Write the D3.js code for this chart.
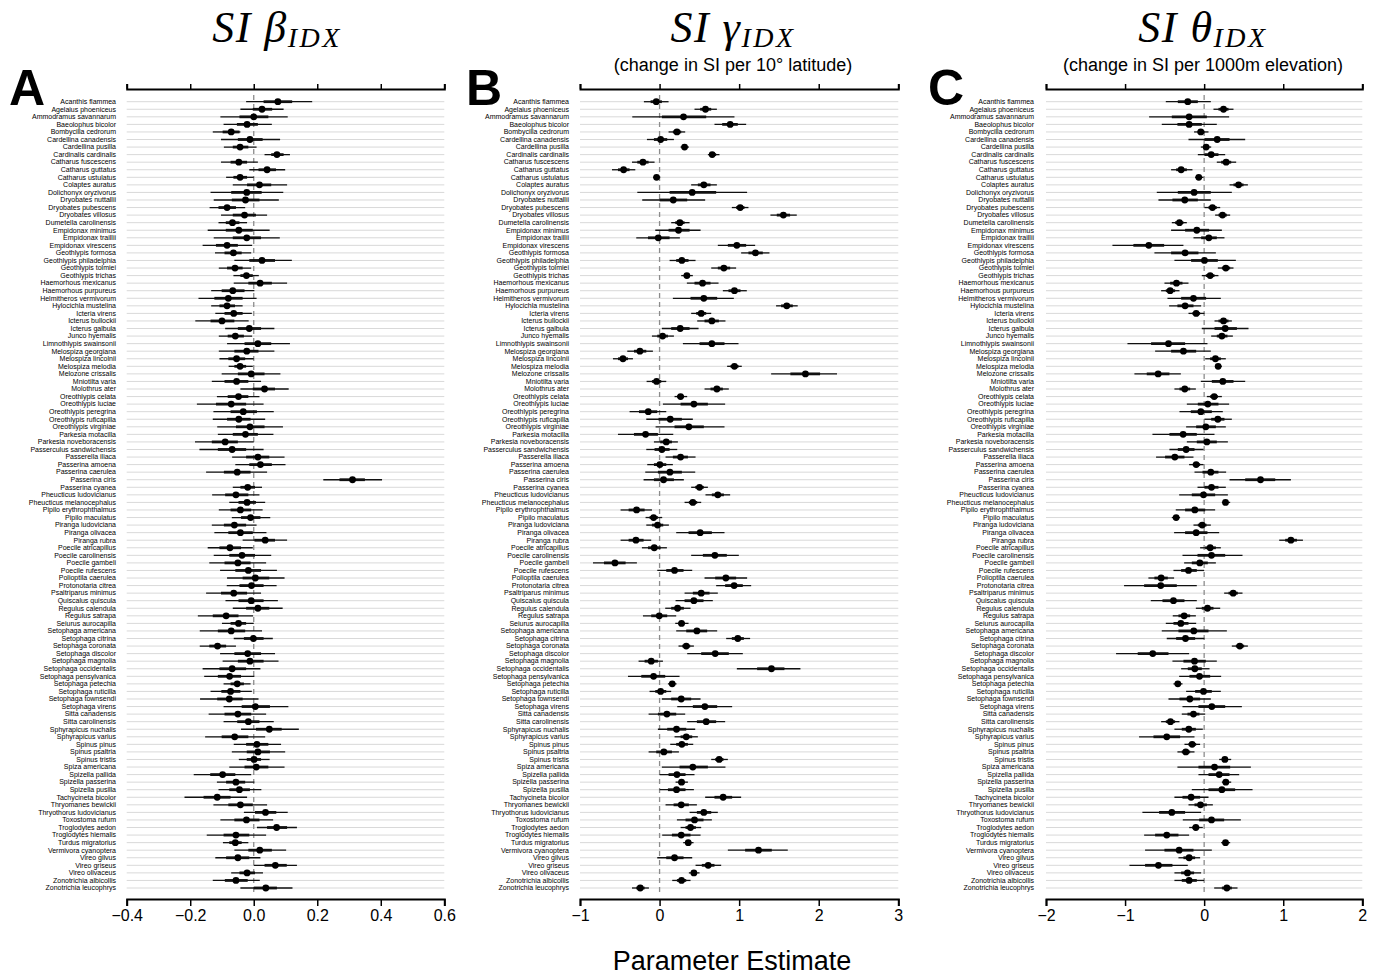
<!DOCTYPE html>
<html>
<head>
<meta charset="utf-8">
<script src="https://cdn.jsdelivr.net/npm/d3@7"></script>
<style>
  html, body { margin: 0; padding: 0; background: #fff; }
  svg { display: block; }
  .sp { font-family: "Liberation Sans", Arial, sans-serif; font-size: 7px; fill: #000; }
  .tick text { font-family: "Liberation Sans", Arial, sans-serif; font-size: 16px; fill: #000; }
</style>
</head>
<body>
<svg id="chart" width="1380" height="975"></svg>
<script>
// Species (rows, top to bottom)
const species = [
  "Acanthis flammea","Agelaius phoeniceus","Ammodramus savannarum","Baeolophus bicolor","Bombycilla cedrorum",
  "Cardellina canadensis","Cardellina pusilla","Cardinalis cardinalis","Catharus fuscescens","Catharus guttatus",
  "Catharus ustulatus","Colaptes auratus","Dolichonyx oryzivorus","Dryobates nuttallii","Dryobates pubescens",
  "Dryobates villosus","Dumetella carolinensis","Empidonax minimus","Empidonax traillii","Empidonax virescens",
  "Geothlypis formosa","Geothlypis philadelphia","Geothlypis tolmiei","Geothlypis trichas","Haemorhous mexicanus",
  "Haemorhous purpureus","Helmitheros vermivorum","Hylocichla mustelina","Icteria virens","Icterus bullockii",
  "Icterus galbula","Junco hyemalis","Limnothlypis swainsonii","Melospiza georgiana","Melospiza lincolnii",
  "Melospiza melodia","Melozone crissalis","Mniotilta varia","Molothrus ater","Oreothlypis celata",
  "Oreothlypis luciae","Oreothlypis peregrina","Oreothlypis ruficapilla","Oreothlypis virginiae","Parkesia motacilla",
  "Parkesia noveboracensis","Passerculus sandwichensis","Passerella iliaca","Passerina amoena","Passerina caerulea",
  "Passerina ciris","Passerina cyanea","Pheucticus ludovicianus","Pheucticus melanocephalus","Pipilo erythrophthalmus",
  "Pipilo maculatus","Piranga ludoviciana","Piranga olivacea","Piranga rubra","Poecile atricapillus",
  "Poecile carolinensis","Poecile gambeli","Poecile rufescens","Polioptila caerulea","Protonotaria citrea",
  "Psaltriparus minimus","Quiscalus quiscula","Regulus calendula","Regulus satrapa","Seiurus aurocapilla",
  "Setophaga americana","Setophaga citrina","Setophaga coronata","Setophaga discolor","Setophaga magnolia",
  "Setophaga occidentalis","Setophaga pensylvanica","Setophaga petechia","Setophaga ruticilla","Setophaga townsendi",
  "Setophaga virens","Sitta canadensis","Sitta carolinensis","Sphyrapicus nuchalis","Sphyrapicus varius",
  "Spinus pinus","Spinus psaltria","Spinus tristis","Spiza americana","Spizella pallida",
  "Spizella passerina","Spizella pusilla","Tachycineta bicolor","Thryomanes bewickii","Thryothorus ludovicianus",
  "Toxostoma rufum","Troglodytes aedon","Troglodytes hiemalis","Turdus migratorius","Vermivora cyanoptera",
  "Vireo gilvus","Vireo griseus","Vireo olivaceus","Zonotrichia albicollis","Zonotrichia leucophrys"
];

// ---- SI beta_IDX ----
const betaEst = [.076,.026,.000,-.021,-.071,-.012,-.043,.073,-.047,.042,-.043,.018,-.022,-.026,-.084,-.029,-.067,-.047,-.022,-.084,-.064,.026,-.059,-.023,.020,-.066,
  -.080,-.084,-.063,-.100,-.014,-.058,.013,-.022,-.054,-.043,-.008,-.054,.034,-.048,-.071,-.033,-.047,-.012,-.026,-.090,-.068,.013,.021,-.052,.311,-.019,-.056,
  -.021,-.042,-.010,-.061,-.042,.036,-.075,-.037,-.050,-.017,.005,-.007,-.063,-.008,.013,-.087,-.048,-.071,-.001,-.114,-.019,-.012,-.068,-.076,-.052,-.073,
  -.077,.005,-.050,-.017,.049,-.060,.010,.013,.001,.008,-.098,-.056,-.045,-.115,-.042,.037,-.023,.072,-.056,-.058,.019,-.050,.068,-.021,-.056,.038];
const betaLo95 = [-.024,-.042,-.105,-.095,-.129,-.103,-.094,.034,-.103,-.014,-.087,-.066,-.136,-.126,-.139,-.103,-.111,-.145,-.126,-.161,-.122,-.061,-.110,-.064,-.063,-.134,
  -.174,-.134,-.121,-.184,-.090,-.110,-.084,-.110,-.108,-.079,-.101,-.132,-.042,-.116,-.179,-.127,-.129,-.115,-.113,-.185,-.171,-.068,-.058,-.150,.219,-.066,-.131,
  -.077,-.110,-.069,-.132,-.124,-.035,-.145,-.126,-.140,-.106,-.084,-.085,-.150,-.089,-.066,-.176,-.100,-.170,-.063,-.170,-.106,-.098,-.161,-.156,-.095,-.136,
  -.169,-.095,-.142,-.095,-.040,-.153,-.063,-.069,-.047,-.077,-.189,-.116,-.111,-.218,-.127,-.031,-.105,.010,-.148,-.097,-.061,-.121,.000,-.071,-.129,-.042];
const betaHi95 = [.184,.094,.107,.057,-.042,.083,.009,.114,.013,.099,.000,.105,.093,.079,-.027,.042,-.021,.050,.082,-.005,-.008,.120,-.008,.016,.105,.002,
  .009,-.035,-.006,-.016,.065,-.005,.114,.065,.000,-.003,.084,.023,.110,.018,.031,.063,.036,.092,.062,.000,.031,.097,.100,.042,.404,.026,.018,
  .036,.028,.052,.009,.040,.105,-.003,.055,.039,.073,.097,.072,.023,.076,.091,-.002,.000,.026,.060,-.056,.067,.078,.021,.002,-.010,-.006,
  .015,.109,.039,.063,.142,.036,.086,.099,.050,.097,-.008,.002,.024,-.021,.042,.107,.061,.136,.039,-.017,.102,.021,.136,.029,.019,.122];
const betaLo66 = [.031,-.003,-.045,-.053,-.098,-.050,-.066,.055,-.073,.015,-.064,-.021,-.071,-.069,-.111,-.066,-.088,-.088,-.066,-.119,-.092,-.014,-.084,-.042,-.017,-.101,
  -.124,-.108,-.092,-.136,-.050,-.082,-.029,-.061,-.080,-.061,-.050,-.092,-.003,-.082,-.119,-.073,-.084,-.056,-.066,-.132,-.113,-.024,-.014,-.094,.270,-.042,-.090,
  -.048,-.073,-.040,-.094,-.080,.002,-.108,-.077,-.092,-.058,-.035,-.045,-.103,-.048,-.024,-.129,-.073,-.113,-.031,-.140,-.061,-.050,-.108,-.113,-.073,-.102,
  -.115,-.038,-.092,-.052,.007,-.101,-.024,-.022,-.022,-.029,-.137,-.087,-.077,-.158,-.080,.004,-.061,.042,-.095,-.077,-.017,-.087,.034,-.045,-.091,.000];
const betaHi66 = [.121,.058,.046,.013,-.045,.028,-.017,.094,-.021,.070,-.021,.055,.025,.018,-.056,.007,-.045,-.003,.023,-.050,-.038,.067,-.035,-.003,.057,-.029,
  -.035,-.059,-.035,-.061,.023,-.031,.055,.015,-.027,-.024,.034,-.017,.067,-.017,-.024,.010,-.010,.034,.013,-.050,-.024,.049,.057,-.010,.350,.004,-.017,
  .007,-.008,.021,-.024,-.003,.067,-.040,.004,-.010,.023,.049,.031,-.021,.031,.049,-.048,-.024,-.027,.031,-.087,.023,.031,-.024,-.040,-.031,-.042,
  -.035,.051,-.008,.018,.088,-.017,.046,.051,.023,.046,-.058,-.027,-.012,-.073,-.003,.071,.018,.105,-.014,-.038,.057,-.014,.104,.004,-.019,.073];

// ---- SI gamma_IDX (change in SI per 10 degrees latitude) ----
const gammaEst = [-.042,.577,.301,.887,.218,.013,.314,.661,-.209,-.452,-.038,.556,.410,.172,1.013,1.556,.255,.238,-.017,.971,1.205,.280,.808,.343,.540,.941,
  .556,1.598,.523,.657,.259,.038,.657,-.247,-.460,.941,1.833,-.038,.720,.264,.431,-.142,.134,.368,-.176,.084,.029,.264,.004,.130,.050,.502,.732,
  .418,-.289,-.075,-.025,.510,-.297,-.067,.695,-.561,.188,.833,.937,.523,.431,.226,-.004,.276,.469,.983,.335,.699,-.105,1.406,-.075,.159,.013,
  .272,.569,.092,.586,.213,.335,.280,.054,.749,.418,.218,.276,.213,.799,.272,.556,.439,.389,.272,.360,1.243,.188,.611,.431,.276,-.243];
const gammaLo95 = [-.197,.439,-.343,.690,.113,-.159,.264,.607,-.347,-.598,-.079,.397,-.280,-.218,.908,1.393,.146,-.054,-.293,.732,1.025,.126,.649,.272,.343,.795,
  .167,1.464,.397,.473,.029,-.096,.293,-.406,-.586,.849,1.402,-.163,.565,.188,.042,-.377,-.167,-.050,-.523,-.071,-.167,.075,-.155,-.180,-.201,.397,.577,
  .314,-.490,-.176,-.167,.209,-.490,-.222,.397,-.837,-.029,.565,.711,.314,.201,.071,-.209,.197,.209,.837,.238,.347,-.264,.971,-.397,.105,-.126,
  .029,.222,-.138,.347,-.021,.188,.134,-.138,.649,.029,.000,.201,.000,.573,.075,.377,.218,.264,.033,.297,.858,-.029,.452,.368,.159,-.347];
const gammaHi95 = [.113,.720,.941,1.088,.322,.180,.368,.753,-.063,-.305,.008,.720,1.100,.573,1.117,1.724,.377,.515,.255,1.201,1.381,.452,.962,.418,.741,1.096,
  .933,1.736,.649,.828,.490,.180,.992,-.084,-.335,1.033,2.230,.084,.870,.347,.824,.084,.418,.816,.172,.230,.222,.452,.167,.448,.305,.607,.887,
  .523,-.096,.033,.117,.816,-.105,.092,.996,-.285,.410,1.100,1.151,.732,.669,.389,.209,.364,.724,1.138,.431,1.046,.042,1.770,.251,.213,.146,
  .515,.912,.322,.824,.448,.481,.423,.243,.858,.828,.439,.356,.431,1.025,.469,.732,.657,.523,.515,.427,1.611,.410,.774,.502,.389,-.134];
const gammaLo66 = [-.113,.510,.029,.787,.167,-.071,.285,.628,-.280,-.523,-.063,.481,.126,.000,.962,1.473,.197,.113,-.146,.858,1.117,.209,.732,.305,.439,.866,
  .389,1.527,.460,.565,.146,-.029,.502,-.322,-.523,.891,1.644,-.096,.640,.222,.264,-.259,-.013,.188,-.322,.008,-.063,.167,-.071,-.021,-.071,.448,.657,
  .368,-.389,-.126,-.096,.364,-.389,-.146,.544,-.699,.084,.699,.824,.418,.314,.146,-.105,.238,.335,.908,.285,.523,-.188,1.226,-.230,.130,-.054,
  .146,.418,-.021,.469,.096,.264,.209,-.042,.699,.251,.113,.238,.105,.690,.176,.469,.326,.326,.155,.326,1.075,.084,.531,.397,.218,-.293];
const gammaHi66 = [.029,.649,.586,.983,.272,.096,.343,.711,-.138,-.377,-.013,.640,.711,.347,1.067,1.640,.314,.377,.126,1.088,1.297,.364,.887,.381,.640,1.017,
  .724,1.674,.586,.745,.377,.105,.816,-.167,-.397,.992,2.017,.021,.795,.305,.607,-.029,.280,.556,-.021,.155,.126,.356,.084,.280,.180,.556,.808,
  .473,-.188,-.021,.046,.657,-.201,.013,.845,-.427,.301,.962,1.046,.628,.552,.305,.096,.314,.598,1.059,.385,.870,-.021,1.569,.071,.188,.084,
  .397,.724,.209,.711,.335,.410,.356,.155,.803,.607,.326,.314,.326,.912,.368,.649,.552,.456,.389,.397,1.410,.301,.690,.469,.335,-.188];

// ---- SI theta_IDX (change in SI per 1000 m elevation) ----
const thetaEst = [-.207,.245,-.190,-.190,-.042,.165,.025,.089,.278,-.291,-.068,.435,-.127,-.245,.105,.232,-.312,-.093,.059,-.700,-.241,.004,.274,.076,-.350,-.430,
  -.135,-.241,-.101,.245,.266,.224,-.451,-.262,.143,.177,-.582,.236,-.245,.127,.046,-.042,.173,.021,-.266,.034,-.228,-.371,-.101,.084,.713,.093,-.008,
  .270,-.118,-.354,-.025,-.101,1.097,.076,.093,-.055,-.198,-.544,-.549,.367,-.388,.042,-.253,-.295,-.131,-.236,.451,-.650,-.122,-.118,-.059,-.333,-.008,
  -.181,.097,-.135,-.426,-.194,-.473,-.152,-.232,.262,.131,.190,.274,.224,-.165,-.046,-.409,.093,-.105,-.473,.270,-.316,-.190,-.578,-.211,-.190,.287];
const thetaLo95 = [-.485,.118,-.696,-.536,-.127,-.198,-.042,-.080,.160,-.418,-.114,.321,-.599,-.578,.004,.139,-.409,-.418,-.135,-1.160,-.629,-.376,.173,-.030,-.502,-.544,
  -.464,-.443,-.198,.131,-.030,.089,-.970,-.620,.013,.139,-.882,-.042,-.376,.034,-.219,-.312,.004,-.228,-.654,-.219,-.439,-.608,-.190,-.122,.321,-.084,-.316,
  .224,-.359,-.409,-.135,-.380,.949,-.051,-.274,-.253,-.388,-.705,-1.013,.253,-.675,-.105,-.397,-.485,-.536,-.473,.350,-1.114,-.401,-.291,-.316,-.388,-.228,
  -.451,-.274,-.283,-.544,-.376,-.823,-.249,-.338,.190,-.338,-.072,.224,-.156,-.376,-.198,-.781,-.270,-.190,-.759,.215,-.747,-.325,-.945,-.376,-.376,.127];
const thetaHi95 = [.084,.371,.316,.160,.055,.519,.089,.266,.405,-.148,-.008,.553,.350,.084,.203,.329,-.219,.224,.257,-.262,.148,.401,.371,.181,-.198,-.312,
  .211,-.038,.004,.350,.561,.363,.042,.084,.274,.224,-.295,.519,-.105,.224,.316,.236,.350,.274,.131,.300,-.008,-.135,-.008,.278,1.097,.274,.300,
  .329,.139,-.304,.084,.190,1.249,.211,.485,.148,.000,-.380,-.093,.485,-.093,.203,-.105,-.101,.287,.004,.553,-.190,.160,.068,.215,-.274,.211,
  .084,.477,.013,-.312,-.017,-.122,-.051,-.122,.342,.591,.443,.342,.612,.055,.110,-.038,.464,-.017,-.190,.329,.097,-.051,-.207,-.038,.000,.422];
const thetaLo66 = [-.333,.181,-.409,-.338,-.084,.004,-.008,.004,.215,-.354,-.093,.371,-.333,-.401,.055,.181,-.367,-.241,-.038,-.895,-.418,-.165,.224,.021,-.430,-.485,
  -.291,-.338,-.148,.181,.131,.160,-.671,-.418,.076,.152,-.726,.097,-.312,.076,-.080,-.169,.089,-.101,-.439,-.093,-.333,-.494,-.143,-.021,.519,.004,-.156,
  .245,-.241,-.384,-.080,-.241,1.025,.013,-.084,-.156,-.291,-.629,-.759,.308,-.527,-.030,-.325,-.388,-.325,-.354,.401,-.840,-.262,-.207,-.186,-.363,-.114,
  -.312,-.072,-.211,-.485,-.283,-.641,-.198,-.283,.224,-.072,.055,.245,.055,-.274,-.122,-.570,-.063,-.148,-.620,.236,-.502,-.262,-.747,-.291,-.283,.224];
const thetaHi66 = [-.080,.308,.034,-.030,.004,.321,.063,.181,.342,-.219,-.038,.498,.084,-.080,.160,.287,-.262,.063,.160,-.506,-.072,.173,.329,.131,-.274,-.367,
  .025,-.135,-.051,.308,.414,.295,-.241,-.101,.211,.203,-.439,.371,-.177,.173,.181,.097,.257,.148,-.093,.160,-.122,-.249,-.051,.181,.899,.181,.139,
  .300,.013,-.325,.030,.042,1.173,.148,.266,.046,-.093,-.460,-.346,.426,-.249,.118,-.177,-.198,.055,-.114,.506,-.451,.021,-.030,.076,-.304,.097,
  -.051,.266,-.059,-.367,-.105,-.304,-.101,-.177,.300,.329,.321,.308,.392,-.051,.034,-.241,.253,-.063,-.325,.304,-.135,-.114,-.401,-.127,-.093,.350];

// Axis tick values
const betaTicks = [-0.4, -0.2, 0.0, 0.2, 0.4, 0.6];
const gammaTicks = [-1, 0, 1, 2, 3];
const thetaTicks = [-2, -1, 0, 1, 2];

const svg = d3.select("#chart");

const y = d3.scalePoint().domain(species).range([101.7, 888]);
const axisTop = 89, axisBottom = 899;

const panels = [
  { letter: "A", greek: "\u03B2", sub: null, domain: [-0.4, 0.6], range: [126.7, 444.3], ticks: betaTicks, fmt: d3.format(".1f"),
    est: betaEst, lo95: betaLo95, hi95: betaHi95, lo66: betaLo66, hi66: betaHi66, labelX: 116, letterX: 27, titleX: 277 },
  { letter: "B", greek: "\u03B3", sub: "(change in SI per 10\u00B0 latitude)", domain: [-1, 3], range: [580, 898.3], ticks: gammaTicks, fmt: d3.format("d"),
    est: gammaEst, lo95: gammaLo95, hi95: gammaHi95, lo66: gammaLo66, hi66: gammaHi66, labelX: 569, letterX: 484, titleX: 733 },
  { letter: "C", greek: "\u03B8", sub: "(change in SI per 1000m elevation)", domain: [-2, 2], range: [1046, 1362.3], ticks: thetaTicks, fmt: d3.format("d"),
    est: thetaEst, lo95: thetaLo95, hi95: thetaHi95, lo66: thetaLo66, hi66: thetaHi66, labelX: 1034, letterX: 946, titleX: 1203 }
];

panels.forEach(p => {
  const x = d3.scaleLinear().domain(p.domain).range(p.range);
  const g = svg.append("g");
  const rows = species.map((s, i) => ({ s, est: p.est[i], lo95: p.lo95[i], hi95: p.hi95[i], lo66: p.lo66[i], hi66: p.hi66[i] }));

  // horizontal row guides
  g.append("g").selectAll("line").data(species).join("line")
    .attr("x1", p.range[0]).attr("x2", p.range[1])
    .attr("y1", d => y(d)).attr("y2", d => y(d))
    .attr("stroke", "#d9d9d9").attr("stroke-width", 1);

  // zero reference
  g.append("line")
    .attr("x1", x(0)).attr("x2", x(0))
    .attr("y1", 95).attr("y2", 893)
    .attr("stroke", "#8c8c8c").attr("stroke-width", 1.3)
    .attr("stroke-dasharray", "5,4");

  // species labels
  g.append("g").selectAll("text").data(species).join("text")
    .attr("class", "sp")
    .attr("x", p.labelX).attr("y", d => y(d))
    .attr("dy", "0.33em").attr("text-anchor", "end")
    .text(d => d);

  // 95% intervals
  g.append("g").selectAll("line").data(rows).join("line")
    .attr("x1", d => x(d.lo95)).attr("x2", d => x(d.hi95))
    .attr("y1", d => y(d.s)).attr("y2", d => y(d.s))
    .attr("stroke", "#111").attr("stroke-width", 1.3);

  // inner intervals
  g.append("g").selectAll("line").data(rows).join("line")
    .attr("x1", d => x(d.lo66)).attr("x2", d => x(d.hi66))
    .attr("y1", d => y(d.s)).attr("y2", d => y(d.s))
    .attr("stroke", "#111").attr("stroke-width", 2.8);

  // point estimates
  g.append("g").selectAll("circle").data(rows).join("circle")
    .attr("cx", d => x(d.est)).attr("cy", d => y(d.s))
    .attr("r", 3.4).attr("fill", "#000");

  // bottom axis
  const bottom = g.append("g").attr("transform", `translate(0,${axisBottom})`)
    .call(d3.axisBottom(x).tickValues(p.ticks).tickFormat(p.fmt).tickSize(7).tickPadding(4));
  bottom.select(".domain").attr("stroke-width", 2);
  bottom.selectAll(".tick line").attr("stroke-width", 1.5);

  // top axis (ticks only)
  const top = g.append("g").attr("transform", `translate(0,${axisTop})`)
    .call(d3.axisTop(x).tickValues(p.ticks).tickFormat("").tickSize(5));
  top.select(".domain").attr("stroke-width", 2);
  top.selectAll(".tick line").attr("stroke-width", 1.5);

  // panel letter
  g.append("text")
    .attr("x", p.letterX).attr("y", 105)
    .attr("text-anchor", "middle")
    .attr("font-family", "Liberation Sans, Arial, sans-serif")
    .attr("font-weight", "bold").attr("font-size", 50)
    .text(p.letter);

  // title: SI <greek>_IDX
  const t = g.append("text")
    .attr("x", p.titleX).attr("y", 42)
    .attr("text-anchor", "middle")
    .attr("font-family", "Liberation Serif, Times New Roman, serif")
    .attr("font-style", "italic").attr("font-size", 44)
    .attr("letter-spacing", 1.5);
  t.append("tspan").text("SI " + p.greek);
  t.append("tspan").attr("font-size", 28).attr("dy", 5).attr("letter-spacing", 2.5).text("IDX");

  if (p.sub) {
    g.append("text")
      .attr("x", p.titleX).attr("y", 71)
      .attr("text-anchor", "middle")
      .attr("font-family", "Liberation Sans, Arial, sans-serif")
      .attr("font-size", 18)
      .text(p.sub);
  }
});

// shared x-axis title
svg.append("text")
  .attr("x", 732).attr("y", 970)
  .attr("text-anchor", "middle")
  .attr("font-family", "Liberation Sans, Arial, sans-serif")
  .attr("font-size", 27)
  .text("Parameter Estimate");
</script>
</body>
</html>
